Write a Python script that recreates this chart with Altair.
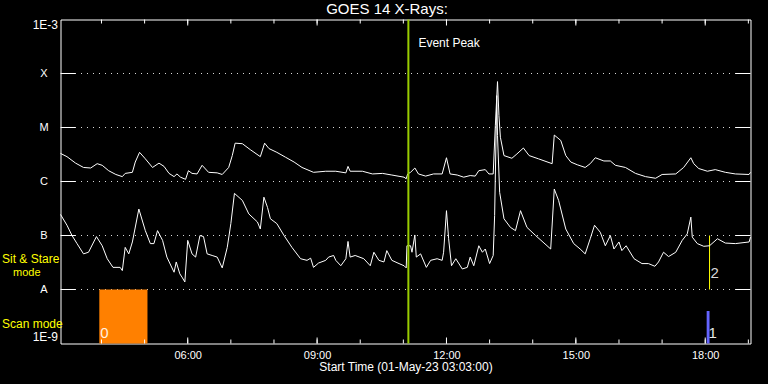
import altair as alt
import pandas as pd

F = "Liberation Sans"
DAY = "2023-05-01T"

# ---- GOES long channel (upper curve): time, log10(flux W/m^2)
long_times = ["03:03","03:12","03:24","03:35","03:45","03:54","04:01","04:10","04:20","04:29",
              "04:33","04:43","04:47","04:53","05:01","05:11","05:20","05:27","05:34","05:41",
              "05:45","05:50","05:57","06:01","06:06","06:13","06:20","06:29","06:41","06:48",
              "06:57","07:02","07:06","07:16","07:27","07:41","07:47","07:53","08:04","08:16",
              "08:28","08:39","08:55","09:12","09:26","09:40","09:43","09:46","10:03","10:17",
              "10:31","10:44","11:01","11:04","11:06","11:10","11:16","11:21","11:31","11:42",
              "11:54","12:00","12:05","12:15","12:24","12:33","12:40","12:45","12:54","12:59",
              "13:05","13:08","13:11","13:13","13:15","13:20","13:31","13:38","13:47","13:55",
              "14:08","14:27","14:30","14:39","14:46","14:53","15:02","15:13","15:20","15:27",
              "15:39","15:48","15:55","16:09","16:23","16:37","16:51","17:00","17:19","17:30",
              "17:40","17:44","17:51","18:03","18:14","18:28","18:42","19:01","19:03"]
long_log10 = [-5.48,-5.54,-5.66,-5.74,-5.75,-5.67,-5.70,-5.80,-5.87,-5.91,
              -5.85,-5.83,-5.64,-5.46,-5.58,-5.74,-5.66,-5.72,-5.85,-5.91,
              -5.86,-5.92,-5.96,-5.80,-5.85,-5.86,-5.70,-5.83,-5.84,-5.87,
              -5.74,-5.52,-5.29,-5.30,-5.41,-5.54,-5.29,-5.39,-5.46,-5.55,
              -5.64,-5.74,-5.83,-5.81,-5.81,-5.84,-5.72,-5.81,-5.81,-5.86,
              -5.85,-5.88,-5.92,-5.95,-5.86,-5.83,-5.75,-5.86,-5.90,-5.86,
              -5.86,-5.56,-5.86,-5.88,-5.92,-5.89,-5.90,-5.80,-5.78,-5.86,
              -5.86,-4.96,-4.15,-4.78,-5.18,-5.52,-5.57,-5.49,-5.38,-5.52,
              -5.58,-5.67,-5.14,-5.24,-5.52,-5.64,-5.69,-5.74,-5.67,-5.56,
              -5.62,-5.62,-5.70,-5.74,-5.85,-5.91,-5.94,-5.87,-5.86,-5.74,
              -5.56,-5.67,-5.76,-5.81,-5.78,-5.83,-5.86,-5.87,-5.83]

# ---- GOES short channel (lower curve)
short_times = ["03:03","03:12","03:19","03:26","03:35","03:42","03:53","04:01","04:08","04:16",
               "04:26","04:29","04:33","04:38","04:43","04:52","05:01","05:08","05:13","05:18",
               "05:25","05:31","05:41","05:44","05:49","05:52","05:56","06:00","06:06","06:11",
               "06:17","06:22","06:27","06:34","06:41","06:48","06:55","07:00","07:05","07:16",
               "07:25","07:37","07:41","07:46","07:51","07:55","08:04","08:14","08:25","08:37",
               "08:46","08:51","08:55","09:02","09:12","09:16","09:23","09:26","09:33","09:40",
               "09:43","09:46","09:53","10:05","10:14","10:19","10:26","10:33","10:37","10:44",
               "10:54","11:01","11:04","11:05","11:10","11:12","11:16","11:18","11:24","11:32",
               "11:38","11:47","11:54","11:56","12:00","12:03","12:07","12:13","12:22","12:29",
               "12:33","12:38","12:45","12:50","12:54","13:00","13:05","13:07","13:10","13:11",
               "13:14","13:20","13:29","13:36","13:43","13:52","14:04","14:25","14:30","14:36",
               "14:46","14:57","15:06","15:13","15:20","15:26","15:34","15:41","15:48","15:53",
               "16:00","16:04","16:10","16:21","16:32","16:41","16:50","16:55","17:02","17:09",
               "17:19","17:28","17:35","17:40","17:42","17:49","17:58","18:06","18:17","18:28",
               "18:42","19:01","19:03"]
short_log10 = [-6.61,-6.81,-7.00,-7.15,-7.34,-7.31,-7.02,-7.19,-7.43,-7.59,
               -7.59,-7.65,-7.22,-7.34,-7.12,-6.51,-6.91,-7.15,-7.15,-6.91,
               -7.09,-7.40,-7.68,-7.49,-7.71,-7.77,-7.86,-7.09,-7.34,-7.40,
               -7.00,-7.02,-7.34,-7.37,-7.40,-7.60,-7.22,-6.78,-6.22,-6.35,
               -6.60,-6.75,-6.88,-6.29,-6.48,-6.69,-6.78,-7.00,-7.22,-7.43,
               -7.46,-7.42,-7.59,-7.51,-7.46,-7.40,-7.37,-7.46,-7.56,-7.43,
               -7.11,-7.40,-7.37,-7.43,-7.56,-7.31,-7.46,-7.49,-7.28,-7.46,
               -7.52,-7.56,-7.60,-7.19,-7.19,-7.31,-6.99,-7.40,-7.34,-7.59,
               -7.46,-7.43,-7.46,-7.31,-6.54,-7.06,-7.56,-7.43,-7.62,-7.59,
               -7.40,-7.56,-7.19,-7.31,-7.25,-7.52,-7.37,-6.63,-4.41,-5.15,
               -6.20,-6.69,-6.85,-6.91,-6.54,-6.85,-7.00,-7.25,-6.14,-6.35,
               -6.88,-7.15,-7.25,-7.34,-7.06,-6.81,-6.94,-7.19,-7.00,-7.25,
               -7.12,-7.28,-7.19,-7.43,-7.52,-7.52,-7.57,-7.49,-7.31,-7.39,
               -7.31,-7.09,-6.97,-6.66,-7.03,-7.15,-7.20,-7.19,-7.06,-7.14,
               -7.15,-7.12,-7.03]

# ---- axes / annotations
title_text = "GOES 14 X-Rays:"
end_labels = ["1E-9", "1E-3"]
class_values = [1e-8, 1e-7, 1e-6, 1e-5, 1e-4]
class_labels = ["A", "B", "C", "M", "X"]
hour_ticks = ["04:00","05:00","06:00","07:00","08:00","09:00","10:00","11:00","12:00",
              "13:00","14:00","15:00","16:00","17:00","18:00","19:00"]
major_hours = [6, 9, 12, 15, 18]
major_hour_ticks = ["06:00","09:00","12:00","15:00","18:00"]
event_peak_time = "11:07"
scan0 = {"start": "03:57", "end": "05:04", "lo": 1e-9, "hi": 1e-8, "label": "0"}
scan1 = {"start": "18:02", "end": "18:06", "lo": 1e-9, "hi": 4e-9, "label": "1"}
stare2 = {"t": "18:06", "lo": 1e-8, "hi": 1e-7, "label": "2"}


def ts(hm):
    return DAY + hm + ":00"


def dt(h, m=0):
    return alt.DateTime(year=2023, month=5, date=1, hours=h, minutes=m)


lines_df = pd.DataFrame({
    "t": [ts(t) for t in long_times] + [ts(t) for t in short_times],
    "flux": [10 ** v for v in long_log10] + [10 ** v for v in short_log10],
    "band": ["long"] * len(long_times) + ["short"] * len(short_times),
})
class_df = pd.DataFrame({"v": class_values, "label": class_labels})
hours_df = pd.DataFrame({"t": [ts(h) for h in hour_ticks]})
major_df = pd.DataFrame({"t": [ts(h) for h in major_hour_ticks]})
event_df = pd.DataFrame({"t": [ts(event_peak_time)]})
scan0_df = pd.DataFrame([{**scan0, "start": ts(scan0["start"]), "end": ts(scan0["end"])}])
scan1_df = pd.DataFrame([{**scan1, "start": ts(scan1["start"]), "end": ts(scan1["end"])}])
stare2_df = pd.DataFrame([{**stare2, "t": ts(stare2["t"])}])
one = pd.DataFrame({"a": [0]})

x_scale = alt.Scale(domain=[dt(3, 3), dt(19, 3)])
y_scale = alt.Scale(type="log", domain=[1e-9, 1e-3], nice=False)

x_axis = alt.Axis(values=[dt(h) for h in major_hours], format="%H:%M",
                  labelColor="white", labelFont=F, labelFontSize=11, labelPadding=6,
                  labelFlush=False, ticks=False, tickSize=0, domain=False, grid=False,
                  title="Start Time (01-May-23 03:03:00)", titleColor="white", titleFont=F,
                  titleFontSize=12, titleFontWeight="normal", titlePadding=1)
y_axis = alt.Axis(values=[1e-9, 1e-3],
                  labelExpr=f"datum.value < 1e-6 ? '{end_labels[0]}' : '{end_labels[1]}'",
                  labelFlush=True, labelColor="white", labelFont=F, labelFontSize=12,
                  labelPadding=3, ticks=False, tickSize=0, domain=False, grid=False, title="")


def X(f):
    return alt.X(f, scale=x_scale, axis=x_axis)


def Y(f):
    return alt.Y(f, scale=y_scale, axis=y_axis)


grid = alt.Chart(class_df).mark_rule(color="#d8d8d8", strokeDash=[1, 5], strokeWidth=1).encode(
    y=Y("v:Q"), x=alt.value(14.5), x2=alt.value(675.5))
left_ticks = alt.Chart(class_df).mark_rule(color="white").encode(
    y=Y("v:Q"), x=alt.value(0), x2=alt.value(15))
right_ticks = alt.Chart(class_df).mark_rule(color="white").encode(
    y=Y("v:Q"), x=alt.value(675), x2=alt.value(690))
top_minor = alt.Chart(hours_df).mark_rule(color="white").encode(
    x=X("t:T"), y=alt.value(0), y2=alt.value(4))
bot_minor = alt.Chart(hours_df).mark_rule(color="white").encode(
    x=X("t:T"), y=alt.value(324), y2=alt.value(320))
top_major = alt.Chart(major_df).mark_rule(color="white").encode(
    x=X("t:T"), y=alt.value(0), y2=alt.value(6))
bot_major = alt.Chart(major_df).mark_rule(color="white").encode(
    x=X("t:T"), y=alt.value(324), y2=alt.value(318))

rect0 = alt.Chart(scan0_df).mark_rect(color="#ff8000").encode(
    x=X("start:T"), x2="end:T", y=Y("lo:Q"), y2="hi:Q")
rect1 = alt.Chart(scan1_df).mark_rect(color="#6464ff").encode(
    x=X("start:T"), x2="end:T", y=Y("lo:Q"), y2="hi:Q")
rule2 = alt.Chart(stare2_df).mark_rule(color="#ffff00", strokeWidth=1).encode(
    x=X("t:T"), y=Y("lo:Q"), y2="hi:Q")

lines = alt.Chart(lines_df).mark_line(color="white", strokeWidth=1).encode(
    x=X("t:T"), y=Y("flux:Q"), detail="band:N")

event = alt.Chart(event_df).mark_rule(color="#99cc00", strokeWidth=2).encode(x=X("t:T"))
event_txt = alt.Chart(event_df).mark_text(
    text="Event Peak", align="left", baseline="alphabetic", dx=10, color="white",
    font=F, fontSize=12).encode(x=X("t:T"), y=alt.value(27.5))

lab0 = alt.Chart(scan0_df).mark_text(align="left", baseline="alphabetic", dx=1,
                                     color="#fff0e0", font=F, fontSize=15).encode(
    x=X("start:T"), y=alt.value(318.5), text="label:N")
lab1 = alt.Chart(scan1_df).mark_text(align="left", baseline="alphabetic", dx=-1,
                                     color="#e8e8e8", font=F, fontSize=15).encode(
    x=X("end:T"), y=alt.value(318.5), text="label:N")
lab2 = alt.Chart(stare2_df).mark_text(align="left", baseline="alphabetic", dx=1,
                                      color="#d8d8d8", font=F, fontSize=15).encode(
    x=X("t:T"), y=alt.value(258.5), text="label:N")

class_txt = alt.Chart(class_df).mark_text(align="center", baseline="middle", color="white",
                                          font=F, fontSize=11).encode(
    y=Y("v:Q"), x=alt.value(-16.5), text="label:N")

title_mark = alt.Chart(one).mark_text(text=title_text, align="center", baseline="alphabetic",
                                      color="white", font=F, fontSize=15).encode(
    x=alt.value(326.5), y=alt.value(-5.5))
mode1 = alt.Chart(one).mark_text(text="Sit & Stare", align="left", baseline="alphabetic",
                                 color="#ffff00", font=F, fontSize=12).encode(
    x=alt.value(-58.5), y=alt.value(243.5))
mode2 = alt.Chart(one).mark_text(text="mode", align="left", baseline="alphabetic",
                                 color="#ffff00", font=F, fontSize=11).encode(
    x=alt.value(-47.5), y=alt.value(256.5))
mode3 = alt.Chart(one).mark_text(text="Scan mode", align="left", baseline="alphabetic",
                                 color="#ffff00", font=F, fontSize=12).encode(
    x=alt.value(-58.5), y=alt.value(308.5))

chart = alt.layer(
    grid, rect0, rect1, rule2, left_ticks, right_ticks, top_minor, bot_minor, top_major,
    bot_major, lines, event, event_txt, lab0, lab1, lab2, class_txt, title_mark,
    mode1, mode2, mode3
).properties(
    width=690, height=324, background="black", autosize="none",
    padding={"left": 60.5, "top": 19.5, "right": 17.5, "bottom": 40.5},
).configure_view(stroke="white", strokeWidth=1)

chart.save("out.html", embed_options={"renderer": "svg", "actions": False})
